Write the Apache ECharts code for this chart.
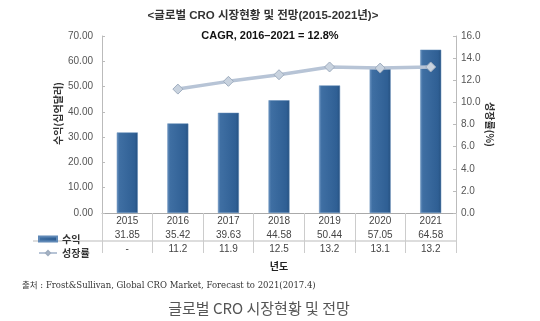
<!DOCTYPE html>
<html><head><meta charset="utf-8">
<script src="https://cdn.jsdelivr.net/npm/echarts@6/dist/echarts.min.js"></script>
<style>html,body{margin:0;padding:0;background:#fff}#c{width:540px;height:321px}</style>
</head><body><div id="c"></div>
<script>
const years = ['2015','2016','2017','2018','2019','2020','2021'];
const revenue = [31.85, 35.42, 39.63, 44.58, 50.44, 57.05, 64.58];
const growth = [null, 11.2, 11.9, 12.5, 13.2, 13.1, 13.2];
const leftTicks = {min: 0, max: 70, interval: 10};
const rightTicks = {min: 0, max: 16, interval: 2};

const F = 'Liberation Sans, Arial, Noto Sans CJK KR, sans-serif';
const chart = echarts.init(document.getElementById('c'));
chart.setOption({
  animation: false,
  textStyle: {fontFamily: F},
  title: [
    {text: '<글로벌 CRO 시장현황 및 전망(2015-2021년)>', left: 258, textAlign: 'center', top: 5,
     textStyle: {fontSize: 11.5, fontWeight: 'bold', color: '#333', fontFamily: F}},
    {text: 'CAGR, 2016–2021 = 12.8%', left: 265, textAlign: 'center', top: 25,
     textStyle: {fontSize: 11, fontWeight: 'bold', color: '#111', fontFamily: F}},
    {text: '출처 : Frost&Sullivan, Global CRO Market, Forecast to 2021(2017.4)', left: 17, top: 277,
     textStyle: {fontSize: 8.5, fontWeight: 'normal', color: '#333', fontFamily: 'DejaVu Serif, Noto Sans CJK KR, serif'}},
    {text: '글로벌 CRO 시장현황 및 전망', left: 254, textAlign: 'center', top: 296,
     textStyle: {fontSize: 15, fontWeight: 'normal', color: '#555', fontFamily: 'Noto Sans CJK KR, sans-serif'}}
  ],
  legend: {
    orient: 'vertical', left: 33, top: 229, itemGap: 4, itemWidth: 18, itemHeight: 5,
    textStyle: {fontSize: 10, fontWeight: 'bold', color: '#333', fontFamily: 'Noto Sans CJK KR, sans-serif'},
    data: [{name: '수익', icon: 'rect'}, {name: '성장률'}]
  },
  grid: {left: 102, right: 84, top: 36, bottom: 108},
  xAxis: {
    type: 'category', data: years,
    name: '년도', nameLocation: 'middle', nameGap: 43,
    nameTextStyle: {fontSize: 10, fontWeight: 'bold', color: '#222', fontFamily: 'Noto Sans CJK KR, sans-serif'},
    axisLine: {lineStyle: {color: '#aaa'}},
    axisTick: {show: true, length: 40, lineStyle: {color: '#ccc'}},
    axisLabel: {
      margin: 1, color: '#444', fontSize: 10, lineHeight: 14,
      formatter: function (v, i) {
        const g = growth[i] == null ? '-' : growth[i].toFixed(1);
        return v + '\n' + revenue[i].toFixed(2) + '\n' + g;
      }
    }
  },
  yAxis: [
    {type: 'value', min: leftTicks.min, max: leftTicks.max, interval: leftTicks.interval,
     name: '수익(십억달러)', nameLocation: 'middle', nameGap: 39, nameRotate: 90, nameMoveOverlap: false,
     nameTextStyle: {fontSize: 10, fontWeight: 'bold', color: '#333', fontFamily: 'Noto Sans CJK KR, sans-serif', padding: [0, 0, 0, 22]},
     axisLine: {show: true, lineStyle: {color: '#bbb'}},
     axisTick: {show: true, inside: true, length: 3, lineStyle: {color: '#bbb'}},
     splitLine: {show: false},
     axisLabel: {color: '#555', fontSize: 10, margin: 9, formatter: v => v.toFixed(2)}},
    {type: 'value', min: rightTicks.min, max: rightTicks.max, interval: rightTicks.interval, position: 'right',
     name: '성장률(%)', nameLocation: 'middle', nameGap: 29, nameRotate: -90, nameMoveOverlap: false,
     nameTextStyle: {fontSize: 10, fontWeight: 'bold', color: '#333', fontFamily: 'Noto Sans CJK KR, sans-serif'},
     axisLine: {show: true, lineStyle: {color: '#bbb'}},
     axisTick: {show: true, inside: true, length: 3, lineStyle: {color: '#bbb'}},
     splitLine: {show: false},
     axisLabel: {color: '#555', fontSize: 10, margin: 5, formatter: v => v.toFixed(1)}}
  ],
  series: [
    {name: '수익', type: 'bar', data: revenue, barWidth: 21, yAxisIndex: 0,
     itemStyle: {
       color: new echarts.graphic.LinearGradient(0, 0, 1, 0, [
         {offset: 0, color: '#6d95c2'}, {offset: 0.12, color: '#3f6fa3'},
         {offset: 0.85, color: '#2f5f94'}, {offset: 1, color: '#25507f'}]),
       borderColor: '#5f88b6', borderWidth: 0.5
     }},
    {name: '성장률', type: 'line', data: growth, yAxisIndex: 1, connectNulls: false,
     symbol: 'diamond', symbolSize: 10,
     lineStyle: {color: '#b7c4d6', width: 3.5},
     itemStyle: {color: '#c9d3df', borderColor: '#9eacbe', borderWidth: 1}}
  ],
  graphic: [
    {type: 'line', shape: {x1: 33, y1: 241, x2: 456, y2: 241}, style: {stroke: '#bbb', lineWidth: 1}}
  ]
});
</script></body></html>
